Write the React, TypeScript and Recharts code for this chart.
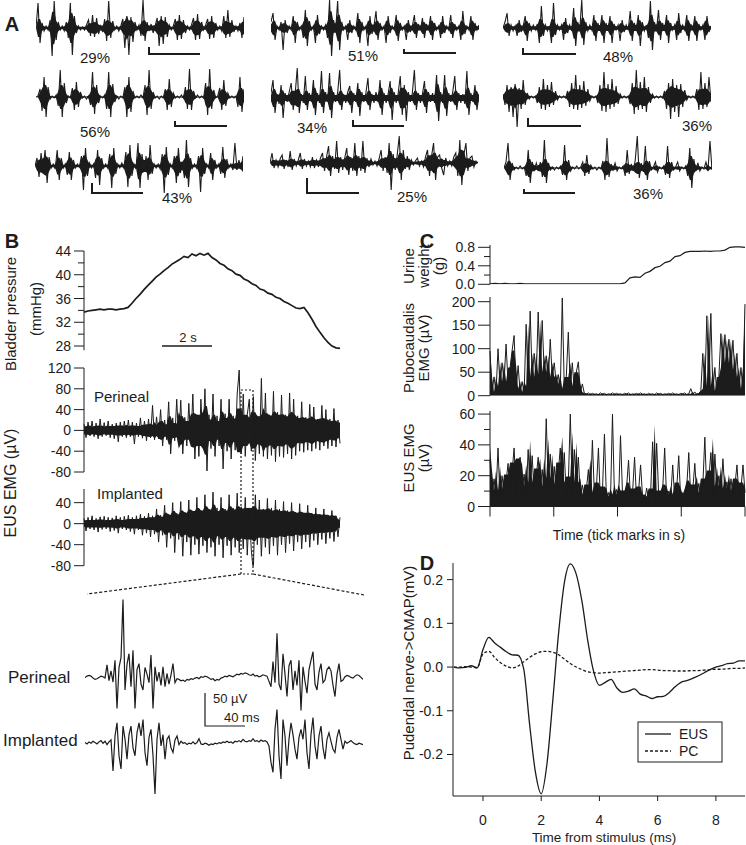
import React from "react";
import { ComposedChart, Line, Area, XAxis, YAxis } from "recharts";

const INK = "#1c1c1c";
const FONT = "'Liberation Sans', Arial, Helvetica, sans-serif";

// ---------- Panel A: EMG bursts, one sample every 2 px, amplitude in px ----------
const burst29 = [0,25,-15,5,-3,2,-2,8,-28,27,-12,6,-2,2,-3,6,-10,25,-27,12,-5,2,-2,1,-2,3,8,-8,13,-9,10,-6,2,-4,9,-13,27,-10,7,-2,2,-3,2,9,-20,12,-27,11,-14,6,-2,3,-8,28,-13,6,-3,4,-5,2,10,-18,12,-16,11,-9,3,-2,2,9,-12,13,-11,8,-5,2,-2,3,10,-12,14,-11,6,-2,3,9,-11,12,-10,5,-2,2,-3,12,-10,18,-9,8,-4,2,-3,5,-10,11];
const burst56 = [0,1,8,-14,20,-20,10,-2,1,-1,2,-9,27,-20,14,-6,1,-1,9,-13,15,-10,5,-1,1,-2,1,-8,25,-17,12,-6,1,-1,2,-12,25,-20,13,-5,1,-2,1,-1,10,-20,20,-15,6,-1,1,-1,2,-1,12,-18,27,-12,5,-1,1,-2,1,-1,8,-13,18,-10,4,-1,1,-1,2,-1,10,-12,28,-13,6,-1,2,-1,1,-1,14,-18,28,-12,7,-1,1,9,-13,17,-9,4,-1,1,-1,1,-10,20,-15,8];
const burst43 = [0,8,-11,13,-3,16,-17,9,-2,2,-3,16,-14,8,-2,2,-9,14,-14,6,-2,2,-1,10,-24,18,-10,3,-2,2,-12,16,-19,8,-2,2,-2,12,-22,18,-8,2,-2,3,-2,14,-21,21,-10,2,-3,23,-22,12,-6,10,-14,21,-8,2,-2,2,-3,12,-27,19,-9,2,-2,10,-17,18,-7,2,-12,26,-21,8,-2,2,-2,10,-26,18,-8,2,-2,13,-14,6,-2,2,-8,19,-12,7,-2,2,-4,23,-4,6,-3,10];
const burst51 = [6,15,-12,2,-2,6,-22,8,-5,2,-2,12,-15,6,-2,2,-10,18,-18,7,-2,2,-15,13,-6,2,-2,3,-10,28,-28,8,-3,27,-22,6,-2,2,-12,8,-5,2,-2,15,-15,6,-2,2,-18,12,-6,2,17,-12,5,-2,2,-15,12,-5,2,-2,13,-13,5,-2,2,-12,8,-4,2,13,-10,4,-2,10,-10,4,-2,12,-12,5,-2,2,-10,12,-5,2,-2,13,-10,4,-2,2,-12,17,-6,2,-2,12,-12,5,-2,3];
const burst34 = [5,18,-15,4,-6,13,-20,5,-4,6,15,-12,5,30,-15,4,-5,22,-12,5,-4,18,-17,5,-5,27,-15,6,-4,25,-20,6,-4,5,28,-12,4,-5,6,12,-15,5,-4,15,-18,6,-4,5,20,-12,4,-5,6,-4,18,-17,5,-5,4,17,-22,6,-5,5,22,-17,13,-23,6,-4,5,28,-12,5,-5,4,17,-15,6,-4,5,-5,23,-23,6,-5,23,-18,5,-4,6,22,-12,5,-5,4,-6,27,-17,5,-4,13,-12,4];
const burst25 = [0,10,-5,3,-4,4,8,-6,3,-4,12,-7,4,-3,3,10,-6,4,-3,2,-4,6,-5,3,-4,5,10,-8,6,17,-13,7,-6,22,-10,6,-7,5,15,-12,6,-8,20,-13,7,-8,22,-10,5,-4,4,-2,2,-3,4,13,-8,6,-10,20,-27,9,-7,8,27,-17,13,-6,7,-7,3,-2,2,5,-3,2,-4,6,13,-13,7,20,-17,6,8,-5,-12,5,-3,2,-3,6,10,-13,23,-22,8,20,-8,5,7,-4,2,0];
const burst48 = [0,6,15,-8,3,-3,2,-8,8,-4,2,12,-13,5,-3,3,-2,4,-15,22,-8,3,-3,2,-15,25,-7,3,-2,3,-12,10,-5,3,-3,20,-18,6,-2,28,-17,6,-3,3,-2,13,-13,5,-2,13,-15,5,-2,12,-15,4,-2,3,-13,8,-4,3,-2,17,-13,5,-2,13,-18,6,-3,3,-10,27,-22,6,-3,18,-12,5,-2,13,-15,5,-2,3,-12,15,-5,3,-2,13,-13,4,-2,12,-13,4,-2,3,-12,12,-4,2];
const burst36a = [3,-8,12,-15,10,-20,13,-30,9,-12,17,-8,4,-2,1,-1,1,-6,10,-12,18,-13,12,-10,15,-8,6,-3,1,-1,1,-1,6,-10,14,-12,22,-13,12,-11,16,-9,8,-4,1,-1,1,-6,12,-14,25,-15,13,-12,18,-10,11,-7,3,-1,1,-1,1,-7,14,-17,27,-13,15,-12,20,-15,10,-6,3,-1,1,-1,1,-1,6,-12,14,-22,18,-15,12,-20,13,-10,7,-3,1,-1,1,-1,8,-13,25,-12,14,-10,20,-5];
const burst36b = [0,6,25,-12,5,-2,1,-1,2,-1,1,-8,18,-15,6,-2,5,-3,6,-9,28,-15,5,-2,1,-2,1,-1,2,-7,23,-12,8,-3,1,-1,2,-1,1,6,-8,13,-6,3,-1,1,-2,1,-1,7,-12,30,-9,4,-2,5,-3,1,-1,2,-8,18,-6,4,-3,8,32,-10,5,-4,22,-12,7,-2,1,6,-4,1,-1,2,-7,22,-10,6,-2,1,6,-3,1,-1,2,-8,20,-20,9,-3,5,-3,1,-1,6,-2,27,-2];

const percentLabels = ["29%", "56%", "43%", "51%", "34%", "25%", "48%", "36%", "36%"];

// ---------- Panel B ----------
// bladder pressure (mmHg), one sample every 4 px
const pressure = [33.7,33.9,34.0,34.1,34.2,34.1,34.2,34.2,34.1,34.2,34.3,34.5,35.2,36.0,36.7,37.5,38.2,38.9,39.6,40.1,40.7,41.2,41.8,42.2,42.6,43.1,42.9,43.5,43.2,43.6,43.3,43.6,42.9,42.5,41.9,41.6,41.0,40.7,40.1,39.9,39.3,39.0,38.5,38.2,37.6,37.4,36.9,36.7,36.2,36.0,35.5,35.2,34.8,34.4,34.3,34.5,33.6,32.5,31.3,30.3,29.4,28.6,28.0,27.7,27.6];
const pressureTicks = [28, 30, 32, 34, 36, 38, 40, 42, 44];
// EUS EMG (µV), one sample every 2 px
const perineal = [12,-14,16,-10,18,-12,14,-16,22,-12,15,-10,18,-14,12,-16,14,-22,16,-12,18,-14,20,-12,16,-26,14,-12,24,-15,18,-20,22,-14,48,-18,26,-16,40,-30,20,-18,55,-45,24,-20,60,-22,58,-45,25,-30,52,-24,70,-55,30,-50,60,-28,80,-78,30,-35,70,-50,28,-30,60,-74,32,-40,60,-55,28,-38,70,116,-45,70,-50,30,60,-40,65,-58,28,-45,100,-50,72,-55,30,-48,75,-60,35,-50,68,-52,30,-45,72,-55,60,-48,28,-40,55,-42,25,-38,50,-40,45,-35,22,-38,48,-30,40,-35,22,-30,42,-32,20,-25];
const implanted = [10,-14,12,-10,15,-12,10,-16,13,-11,14,-10,12,-15,11,-13,15,-18,12,-10,14,-12,16,-15,12,-20,15,-12,18,-22,14,-18,20,-25,15,-20,28,-35,16,-22,35,-45,18,-28,40,-55,20,-30,42,-62,22,-35,45,-60,24,-40,50,-58,25,-42,55,-55,28,-45,60,-62,30,-40,50,-65,28,-42,55,-60,30,-45,58,-55,32,-48,50,-60,30,-50,-91,55,-40,45,-62,28,-45,48,-58,30,-42,45,-60,28,-40,42,-55,25,-38,40,-52,22,-35,38,-48,20,-35,35,-45,20,-32,30,-40,18,-30,28,-38,16,-28,25,-34,15,-25,12];
const emgTicksPerineal = [-80, -40, 0, 40, 80, 120];
const emgTicksImplanted = [-80, -40, 0, 40];
// expanded view (µV), one sample every 2 px
const perinealZoom = [0,2,3,2,-1,-3,-2,0,2,1,-1,19,-5,10,-7,26,-47,15,30,118,-19,20,36,-14,41,-47,12,21,-10,-19,15,5,-8,34,-47,16,-6,8,-12,16,-14,6,-10,4,21,-8,-2,-3,-5,-4,-6,-3,-4,-2,-3,-1,0,-2,1,0,2,1,-1,-3,-2,-5,-3,-4,-1,0,2,1,3,2,1,3,5,4,6,5,7,6,4,3,5,2,3,1,2,4,3,2,-6,-14,24,-8,67,-10,-19,36,5,-29,18,26,-19,10,-12,26,-50,16,-6,-24,12,26,39,-10,-19,8,21,-8,-4,12,16,10,-12,-29,5,21,-6,-4,1,3,2,0,-1,2,4,3,0,-3];
const implantedZoom = [0,-2,1,-1,2,0,-2,1,3,-1,2,-3,1,4,-43,10,30,-20,-40,25,5,-25,12,25,-8,-20,15,30,10,35,-15,-35,8,20,-20,-78,5,30,-5,12,-25,5,10,-8,-15,4,10,-3,2,-1,0,-3,-1,-2,1,-2,0,6,-2,-3,-1,-2,-4,-2,-3,-1,-2,0,-1,1,0,2,0,1,-1,2,1,3,1,5,2,1,3,2,6,2,3,1,4,2,3,1,-5,-30,-45,20,50,-20,-55,35,10,-35,5,30,12,-10,-25,8,20,5,35,-15,-40,12,38,-5,-25,10,25,-8,-25,5,15,2,-10,-15,8,20,5,-10,2,-1,1,3,0,-2,-3,-1,-2,-3];

// ---------- Panel C ----------
// urine weight (g), one sample every 5 px
const urineWeight = [0.01,0.02,0.01,0.02,0.01,0.01,0.02,0.01,0.01,0.01,0.01,0.01,0.01,0.01,0.01,0.01,0.01,0.01,0.01,0.01,0.01,0.01,0.01,0.01,0.01,0.01,0.01,0.03,0.14,0.16,0.15,0.24,0.28,0.36,0.39,0.47,0.5,0.6,0.62,0.69,0.71,0.71,0.71,0.72,0.71,0.72,0.72,0.74,0.8,0.81,0.81,0.8];
const urineTicks = [0, 0.2, 0.4, 0.6, 0.8];
// pubocaudalis EMG (µV), one sample every 2 px
const pubocaudalis = [95,5,40,8,100,20,70,30,110,25,60,96,128,15,64,8,30,5,152,20,180,40,90,35,178,45,160,50,85,30,120,40,70,25,45,10,208,15,40,135,20,70,10,50,72,8,25,5,3,6,2,5,3,4,2,6,3,5,2,4,3,6,2,5,3,4,2,5,3,6,2,4,3,5,2,6,3,4,2,5,3,4,2,6,3,5,2,4,3,5,2,6,3,4,2,5,3,6,2,4,15,3,8,2,5,10,90,15,170,20,175,10,60,5,40,132,60,130,70,120,55,118,40,90,15,60,10,195];
const pubocaudalisTicks = [0, 50, 100, 150, 200];
// EUS EMG (µV), one sample every 2 px
const eusEmg = [30,6,18,8,38,5,20,9,16,28,6,22,38,7,24,32,10,21,5,37,12,33,8,19,32,10,24,9,57,14,34,11,26,9,22,38,12,35,6,15,60,8,37,12,32,6,14,5,11,24,4,43,7,12,38,3,10,47,5,9,4,60,6,11,3,46,8,4,12,30,5,9,32,4,10,27,6,3,12,5,9,42,4,41,8,5,11,38,4,10,6,27,5,12,33,4,9,6,13,35,5,11,28,7,15,5,14,45,8,18,35,6,34,10,20,7,31,9,16,5,18,8,14,27,6,12,27,9];
const eusTicks = [0, 10, 20, 30, 40, 50, 60];
const secondTicks = [0, 1, 2, 3, 4];

// ---------- Panel D ----------
const stimTime = [-1.0,-0.8,-0.6,-0.4,-0.2,0.0,0.2,0.4,0.6,0.8,1.0,1.2,1.4,1.6,1.8,2.0,2.2,2.4,2.6,2.8,3.0,3.2,3.4,3.6,3.8,4.0,4.2,4.4,4.6,4.8,5.0,5.2,5.4,5.6,5.8,6.0,6.2,6.4,6.6,6.8,7.0,7.2,7.4,7.6,7.8,8.0,8.2,8.4,8.6,8.8,9.0];
const cmapEUS = [0,-0.002,-0.001,0.003,-0.002,0.04,0.068,0.055,0.045,0.035,0.028,0.027,-0.005,-0.13,-0.24,-0.29,-0.22,-0.075,0.08,0.195,0.236,0.213,0.15,0.06,-0.01,-0.042,-0.035,-0.028,-0.048,-0.058,-0.055,-0.05,-0.062,-0.066,-0.072,-0.068,-0.067,-0.058,-0.045,-0.035,-0.031,-0.026,-0.02,-0.013,-0.006,0,0.003,0.008,0.009,0.014,0.014];
const cmapPC = [0,0,0.001,0,-0.001,0.03,0.036,0.022,0.01,0.002,-0.002,0.002,0.012,0.022,0.03,0.035,0.036,0.034,0.028,0.018,0.008,0,-0.006,-0.011,-0.013,-0.014,-0.013,-0.012,-0.011,-0.01,-0.009,-0.008,-0.007,-0.006,-0.006,-0.007,-0.008,-0.008,-0.009,-0.009,-0.009,-0.008,-0.008,-0.007,-0.006,-0.005,-0.005,-0.004,-0.003,-0.003,-0.002];
const cmapTicksX = [0, 2, 4, 6, 8];
const cmapTicksY = [-0.2, -0.1, 0, 0.1, 0.2];

// ---------- helpers ----------
// dense EMG core: median of |neighbours| so lone spikes stay thin and bursts fill in
const med3 = (a: number[], i: number) => {
  const w = [a[Math.max(0, i - 1)], a[i], a[Math.min(a.length - 1, i + 1)]].map(Math.abs).sort((p, q) => p - q);
  return w[1];
};
const rows = (values: number[], k = 0, rectified = false) =>
  values.map((v, i) => {
    const m = k * med3(values, i);
    return { i, v, band: rectified ? [0, m] : [-m, m] };
  });

type TraceProps = {
  values: number[];
  left: number;
  top: number;
  width: number;
  height: number;
  domain: [number, number];
  sw?: number;
  k?: number;
};

function Trace({ values, left, top, width, height, domain, sw = 1, k = 0 }: TraceProps) {
  return (
    <div style={{ position: "absolute", left, top }}>
      <ComposedChart width={width} height={height} data={rows(values, k)} margin={{ top: 0, right: 0, bottom: 0, left: 0 }}>
        <XAxis dataKey="i" type="number" domain={[0, values.length - 1]} hide />
        <YAxis type="number" domain={domain} hide allowDataOverflow />
        {k > 0 && <Area dataKey="band" type="linear" stroke="none" fill={INK} fillOpacity={1} isAnimationActive={false} />}
        <Line dataKey="v" type="linear" stroke={INK} strokeWidth={sw} dot={false} isAnimationActive={false} />
      </ComposedChart>
    </div>
  );
}

const yTick =
  (majors: number[], len: number, minorLen: number, fmt: (v: number) => string) =>
  (props: any) => {
    const { x, y, payload } = props;
    const v = payload.value as number;
    const major = majors.some((m) => Math.abs(m - v) < 1e-6);
    return (
      <g>
        <line x1={x - (major ? len : minorLen)} x2={x} y1={y} y2={y} stroke={INK} strokeWidth={1} />
        {major && (
          <text x={x - len - 3} y={y} textAnchor="end" dominantBaseline="central" fontSize={14} fontFamily={FONT} fill={INK}>
            {fmt(v)}
          </text>
        )}
      </g>
    );
  };

const axisProps = {
  tickLine: false,
  tickSize: 0,
  tickMargin: 0,
  interval: 0 as const,
  axisLine: { stroke: INK, strokeWidth: 1 },
  allowDataOverflow: true,
};

type TxtProps = {
  x: number;
  y: number;
  s?: number;
  a?: "start" | "middle" | "end";
  b?: boolean;
  r?: boolean;
  children: React.ReactNode;
};
const Txt = ({ x, y, s = 15, a = "middle", b = false, r = false, children }: TxtProps) => (
  <text
    x={x}
    y={y}
    fontSize={s}
    textAnchor={a}
    dominantBaseline="central"
    fontWeight={b ? "bold" : "normal"}
    fontFamily={FONT}
    fill={INK}
    transform={r ? `rotate(-90 ${x} ${y})` : undefined}
  >
    {children}
  </text>
);

// where each panel-A trace sits: left edge, baseline, label centre, scale bar
const panelA = [
  { values: burst29, left: 36, base: 28, lx: 95, ly: 57, bar: "M149,47V54H200" },
  { values: burst56, left: 36, base: 97, lx: 95, ly: 131, bar: "M175,121V126H227" },
  { values: burst43, left: 35, base: 166, lx: 177, ly: 197, bar: "M92,183V193H143" },
  { values: burst51, left: 271, base: 28, lx: 363, ly: 55, bar: "M404,49V53H456" },
  { values: burst34, left: 271, base: 98, lx: 312, ly: 127, bar: "M353,120V126H404" },
  { values: burst25, left: 270, base: 163, lx: 412, ly: 196, bar: "M307,178V193H359" },
  { values: burst48, left: 503, base: 28, lx: 618, ly: 56, bar: "M523,48V54H576" },
  { values: burst36a, left: 503, base: 97, lx: 697, ly: 125, bar: "M528,118V126H581" },
  { values: burst36b, left: 504, base: 168, lx: 648, ly: 193, bar: "M524,189V193H575" },
];

export default function App() {
  const cmapData = stimTime.map((t, k) => ({ t, eus: cmapEUS[k], pc: cmapPC[k] }));
  const eusData = rows(eusEmg, 1.3, true).map((r) => ({ ...r, t: (r.i * 4) / (eusEmg.length - 1) }));

  return (
    <div style={{ position: "absolute", left: 0, top: 0, width: 746, height: 845, background: "#fff", fontFamily: FONT, overflow: "hidden" }}>
      {/* Panel A */}
      {panelA.map((p, k) => (
        <Trace key={k} values={p.values} left={p.left} top={p.base - 35} width={208} height={70} domain={[-35, 35]} sw={1.1} k={0.6} />
      ))}

      {/* Panel B: bladder pressure */}
      <div style={{ position: "absolute", left: 0, top: 241 }}>
        <ComposedChart width={345} height={119.2} data={rows(pressure)} margin={{ top: 10, right: 5, bottom: 10, left: 0 }}>
          <XAxis dataKey="i" type="number" domain={[0, pressure.length - 1]} hide />
          <YAxis type="number" domain={[27.3, 44]} ticks={pressureTicks} width={84} {...axisProps} tick={yTick([28, 32, 36, 40, 44], 10, 6, (v) => String(v))} />
          <Line dataKey="v" type="linear" stroke={INK} strokeWidth={1.7} dot={false} isAnimationActive={false} />
        </ComposedChart>
      </div>

      {/* Panel B: EUS EMG, perineal */}
      <div style={{ position: "absolute", left: 0, top: 358 }}>
        <ComposedChart width={345} height={124} data={rows(perineal, 0.6)} margin={{ top: 10, right: 5, bottom: 10, left: 0 }}>
          <XAxis dataKey="i" type="number" domain={[0, perineal.length - 1]} hide />
          <YAxis type="number" domain={[-80, 120]} ticks={emgTicksPerineal} width={84} {...axisProps} tick={yTick(emgTicksPerineal, 10, 10, (v) => String(v))} />
          <Area dataKey="band" type="linear" stroke="none" fill={INK} fillOpacity={1} isAnimationActive={false} />
          <Line dataKey="v" type="linear" stroke={INK} strokeWidth={1} dot={false} isAnimationActive={false} />
        </ComposedChart>
      </div>

      {/* Panel B: EUS EMG, implanted */}
      <div style={{ position: "absolute", left: 0, top: 479.4 }}>
        <ComposedChart width={345} height={96.7} data={rows(implanted, 0.6)} margin={{ top: 10, right: 5, bottom: 10, left: 0 }}>
          <XAxis dataKey="i" type="number" domain={[0, implanted.length - 1]} hide />
          <YAxis type="number" domain={[-80, 66]} ticks={emgTicksImplanted} width={84} {...axisProps} tick={yTick(emgTicksImplanted, 10, 10, (v) => String(v))} />
          <Area dataKey="band" type="linear" stroke="none" fill={INK} fillOpacity={1} isAnimationActive={false} />
          <Line dataKey="v" type="linear" stroke={INK} strokeWidth={1} dot={false} isAnimationActive={false} />
        </ComposedChart>
      </div>

      {/* Panel B: expanded traces */}
      <Trace values={perinealZoom} left={85} top={594.5} width={278} height={122} domain={[-60, 125]} sw={1.2} />
      <Trace values={implantedZoom} left={85} top={703.4} width={278} height={95.7} domain={[-85, 60]} sw={1.2} />

      {/* Panel C: urine weight */}
      <div style={{ position: "absolute", left: 420, top: 234.7 }}>
        <ComposedChart width={330} height={59.3} data={rows(urineWeight)} margin={{ top: 10, right: 5, bottom: 10, left: 0 }}>
          <XAxis dataKey="i" type="number" domain={[0, urineWeight.length - 1]} hide />
          <YAxis type="number" domain={[0, 0.85]} ticks={urineTicks} width={70} {...axisProps} tick={yTick([0, 0.4, 0.8], 12, 6, (v) => v.toFixed(1))} />
          <Line dataKey="v" type="linear" stroke={INK} strokeWidth={1.2} dot={false} isAnimationActive={false} />
        </ComposedChart>
      </div>

      {/* Panel C: pubocaudalis EMG */}
      <div style={{ position: "absolute", left: 420, top: 287.3 }}>
        <ComposedChart width={330} height={118.7} data={rows(pubocaudalis, 1, true)} margin={{ top: 10, right: 5, bottom: 10, left: 0 }}>
          <XAxis dataKey="i" type="number" domain={[0, pubocaudalis.length - 1]} hide />
          <YAxis type="number" domain={[0, 210]} ticks={pubocaudalisTicks} width={70} {...axisProps} tick={yTick(pubocaudalisTicks, 12, 12, (v) => String(v))} />
          <Area dataKey="band" type="linear" stroke="none" fill={INK} fillOpacity={1} isAnimationActive={false} />
          <Line dataKey="v" type="linear" stroke={INK} strokeWidth={1} dot={false} isAnimationActive={false} />
        </ComposedChart>
      </div>

      {/* Panel C: EUS EMG with time axis */}
      <div style={{ position: "absolute", left: 420, top: 400.5 }}>
        <ComposedChart width={330} height={135.5} data={eusData} margin={{ top: 10, right: 5, bottom: 0, left: 0 }}>
          <XAxis
            dataKey="t"
            type="number"
            domain={[0, 4]}
            ticks={secondTicks}
            interval={0}
            height={30}
            tickSize={10}
            tickFormatter={() => ""}
            axisLine={{ stroke: INK }}
            tickLine={{ stroke: INK }}
          />
          <YAxis type="number" domain={[0, 62]} ticks={eusTicks} width={70} {...axisProps} tick={yTick([0, 20, 40, 60], 12, 6, (v) => String(v))} />
          <Area dataKey="band" type="linear" stroke="none" fill={INK} fillOpacity={1} isAnimationActive={false} />
          <Line dataKey="v" type="linear" stroke={INK} strokeWidth={1} dot={false} isAnimationActive={false} />
        </ComposedChart>
      </div>

      {/* Panel D: CMAP */}
      <div style={{ position: "absolute", left: 400, top: 553 }}>
        <ComposedChart width={350} height={283} data={cmapData} margin={{ top: 10, right: 5, bottom: 0, left: 0 }}>
          <XAxis
            dataKey="t"
            type="number"
            domain={[-1.03, 9]}
            ticks={cmapTicksX}
            interval={0}
            height={40}
            tickSize={5}
            tickMargin={14}
            axisLine={{ stroke: INK }}
            tickLine={{ stroke: INK }}
            tick={{ fontSize: 14, fill: INK, fontFamily: FONT }}
            allowDataOverflow
          />
          <YAxis
            type="number"
            domain={[-0.295, 0.238]}
            ticks={cmapTicksY}
            interval={0}
            width={53}
            tickSize={6}
            tickMargin={4}
            tickFormatter={(v: number) => v.toFixed(1)}
            axisLine={{ stroke: INK }}
            tickLine={{ stroke: INK }}
            tick={{ fontSize: 14, fill: INK, fontFamily: FONT }}
            allowDataOverflow
          />
          <Line dataKey="eus" type="monotone" stroke={INK} strokeWidth={1.3} dot={false} isAnimationActive={false} />
          <Line dataKey="pc" type="monotone" stroke={INK} strokeWidth={1.3} strokeDasharray="3 2" dot={false} isAnimationActive={false} />
        </ComposedChart>
      </div>

      {/* labels, scale bars and annotations */}
      <svg width={746} height={845} style={{ position: "absolute", left: 0, top: 0, pointerEvents: "none" }}>
        <Txt x={12} y={24} s={20} b>A</Txt>
        <Txt x={12} y={241} s={20} b>B</Txt>
        <Txt x={427} y={241} s={20} b>C</Txt>
        <Txt x={427} y={563} s={20} b>D</Txt>

        {panelA.map((p, k) => (
          <g key={k}>
            <Txt x={p.lx} y={p.ly}>{percentLabels[k]}</Txt>
            <path d={p.bar} fill="none" stroke={INK} strokeWidth={2} />
          </g>
        ))}

        <Txt x={10} y={314} r>Bladder pressure</Txt>
        <Txt x={35.5} y={309} r>(mmHg)</Txt>
        <path d="M162,346H212" stroke={INK} strokeWidth={1.5} />
        <Txt x={188} y={337} s={13}>2 s</Txt>

        <Txt x={10} y={483} s={16} r>EUS EMG (µV)</Txt>
        <Txt x={94} y={396} a="start">Perineal</Txt>
        <Txt x={97} y={493} a="start">Implanted</Txt>
        <rect x={241} y={390} width={12} height={184} fill="none" stroke={INK} strokeWidth={1.2} strokeDasharray="2 2" />
        <path d="M241,574L87,594M253,574L364,595" fill="none" stroke={INK} strokeWidth={1.2} strokeDasharray="3 2" />

        <Txt x={8} y={677} s={17} a="start">Perineal</Txt>
        <Txt x={3} y={740} s={17} a="start">Implanted</Txt>
        <path d="M205,693V726H245" fill="none" stroke={INK} strokeWidth={1.2} />
        <Txt x={213} y={698} s={13} a="start">50 µV</Txt>
        <Txt x={224} y={717} s={13} a="start">40 ms</Txt>

        <Txt x={408} y={266} r>Urine</Txt>
        <Txt x={423} y={266} r>weight</Txt>
        <Txt x={438} y={266} r>(g)</Txt>
        <Txt x={408} y={348} r>Pubocaudalis</Txt>
        <Txt x={423} y={348} r>EMG (µV)</Txt>
        <Txt x={408} y={458} r>EUS EMG</Txt>
        <Txt x={423} y={458} r>(µV)</Txt>
        <Txt x={619} y={535} s={14}>Time (tick marks in s)</Txt>

        <Txt x={408} y={663} r>Pudendal nerve-&gt;CMAP(mV)</Txt>
        <Txt x={604} y={837} s={13.5}>Time from stimulus (ms)</Txt>
        <rect x={638} y={722} width={84} height={40} fill="#fff" stroke={INK} strokeWidth={1} />
        <path d="M645,734H671" stroke={INK} strokeWidth={1.3} />
        <path d="M645,751H671" stroke={INK} strokeWidth={1.3} strokeDasharray="3 2" />
        <Txt x={679} y={734} s={14} a="start">EUS</Txt>
        <Txt x={679} y={751} s={14} a="start">PC</Txt>
      </svg>
    </div>
  );
}
